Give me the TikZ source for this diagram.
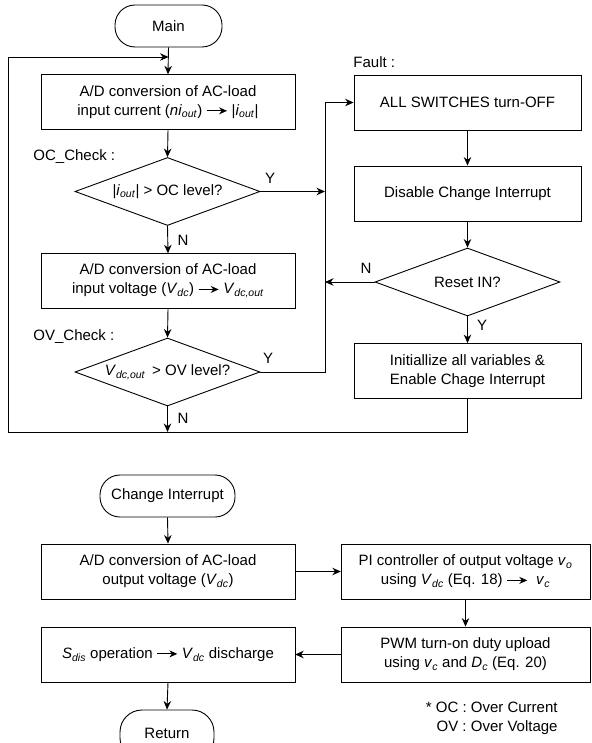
\documentclass[tikz,border=0pt]{standalone}
\usepackage{fontspec}
\setmainfont{Liberation Sans}
\usetikzlibrary{shapes.geometric,arrows.meta}
\newcommand\sbs[1]{\textsubscript{\textit{#1}}}
\newcommand\rarr{\tikz[baseline=-0.3em]\draw[line width=0.9pt,-{Stealth[length=8pt,width=7pt]}] (0pt,0pt)--(20pt,0pt);}
\begin{document}
\begin{tikzpicture}[x=1pt,y=-1pt, font=\fontsize{15}{19}\selectfont, line width=0.9pt,
 box/.style={draw, rectangle, minimum height=55pt, align=center, inner sep=0pt},
 wbox/.style={box, minimum width=254pt},
 rbox/.style={box, minimum width=227pt},
 pbox/.style={box, minimum width=249pt},
 term/.style={draw, rectangle, rounded corners=20pt, minimum height=42pt, inner sep=0pt},
 dec/.style={draw, diamond, aspect=2.7, minimum width=185pt, minimum height=68pt, inner sep=0pt},
 arr/.style={-{Stealth[length=8.5pt,width=7.5pt]}},
 lbl/.style={inner sep=0pt}]
\useasboundingbox (0,0) rectangle (591,743);
\clip (0,0) rectangle (591,743);
% main flow
\node[term, minimum width=107pt] (main) at (168.5,26) {Main};
\node[wbox] (b1) at (168,102) {A/D conversion of AC-load\\input current (\textit{ni}\sbs{out}) \rarr\ |\textit{i}\sbs{out}|};
\node[dec] (d1) at (167.5,191.5) {|\textit{i}\sbs{out}| > OC level?};
\node[wbox] (b2) at (168,281) {A/D conversion of AC-load\\input voltage (\textit{V}\sbs{dc}) \rarr\ \textit{V}\sbs{dc,out}};
\node[dec] (d2) at (167.5,372) {\textit{V}\sbs{dc,out} \,> OV level?};
% fault column
\node[rbox] (f1) at (467.5,102.5) {ALL SWITCHES turn-OFF};
\node[rbox] (f2) at (467.5,193.5) {Disable Change Interrupt};
\node[dec] (d3) at (467.5,282) {Reset IN?};
\node[rbox] (f3) at (467.5,371) {Initiallize all variables \&\\Enable Chage Interrupt};
% labels
\node[lbl, anchor=west] (locl) at (33,157) {OC\_Check :};
\node[lbl, anchor=west] (lovl) at (33,337) {OV\_Check :};
\node[lbl, anchor=west] (lfault) at (353,62) {Fault :};
\node[lbl] (ly1) at (270,178) {Y};
\node[lbl] (ln1) at (183,240) {N};
\node[lbl] (ly2) at (268,358) {Y};
\node[lbl] (ln2) at (183,418) {N};
\node[lbl] (ln3) at (366,268) {N};
\node[lbl] (ly3) at (482,325) {Y};
% coordinates
\coordinate (vx) at (325,0);
\coordinate (bl) at (8,432);
\coordinate (tl) at (8,57);
\coordinate (bj) at (167.5,432);
\coordinate (tj) at (168.5,57);
% connectors main
\draw[arr] (main.south) -- (b1.north);
\draw[arr] (b1.south) -- (d1.north);
\draw[arr] (d1.south) -- (b2.north);
\draw[arr] (b2.south) -- (d2.north);
\draw[arr] (d2.south) -- (bj);
\draw[arr] (d1.east) -- (d1.east -| vx);
\draw[arr] (d2.east) -- (d2.east -| vx) -- (vx |- f1.west) -- (f1.west);
\draw[arr] (f1.south) -- (f2.north);
\draw[arr] (f2.south) -- (d3.north);
\draw[arr] (d3.south) -- (f3.north);
\draw[arr] (d3.west) -- (d3.west -| vx);
\draw[arr] (f3.south) -- (f3.south |- bl) -- (bl) -- (tl) -- (tj);
% change interrupt
\node[term, minimum width=135pt] (ci) at (167.5,496) {Change Interrupt};
\node[wbox] (c1) at (168,571.5) {A/D conversion of AC-load\\output voltage (\textit{V}\sbs{dc})};
\node[pbox] (c2) at (465.5,571.5) {PI controller of output voltage \textit{v}\sbs{o}\\using \textit{V}\sbs{dc} (Eq. 18) \rarr\ \ \textit{v}\sbs{c}};
\node[pbox] (c3) at (465.5,654.5) {PWM turn-on duty upload\\using \textit{v}\sbs{c} and \textit{D}\sbs{c} (Eq. 20)};
\node[wbox] (c4) at (168,654.5) {\textit{S}\sbs{dis} operation \rarr\ \textit{V}\sbs{dc} discharge};
\node[term, minimum width=94pt, minimum height=50pt, rounded corners=22pt] (ret) at (167,735) {\raisebox{4pt}{Return}};
\draw[arr] (ci.south) -- (c1.north);
\draw[arr] (c1.east) -- (c2.west);
\draw[arr] (c2.south) -- (c3.north);
\draw[arr] (c3.west) -- (c4.east);
\draw[arr] (c4.south) -- (ret.north);
\node[lbl, anchor=east, align=right] (note) at (558,718) {* OC : Over Current\\OV : Over Voltage\hspace{0.6pt}};
\end{tikzpicture}
\end{document}
